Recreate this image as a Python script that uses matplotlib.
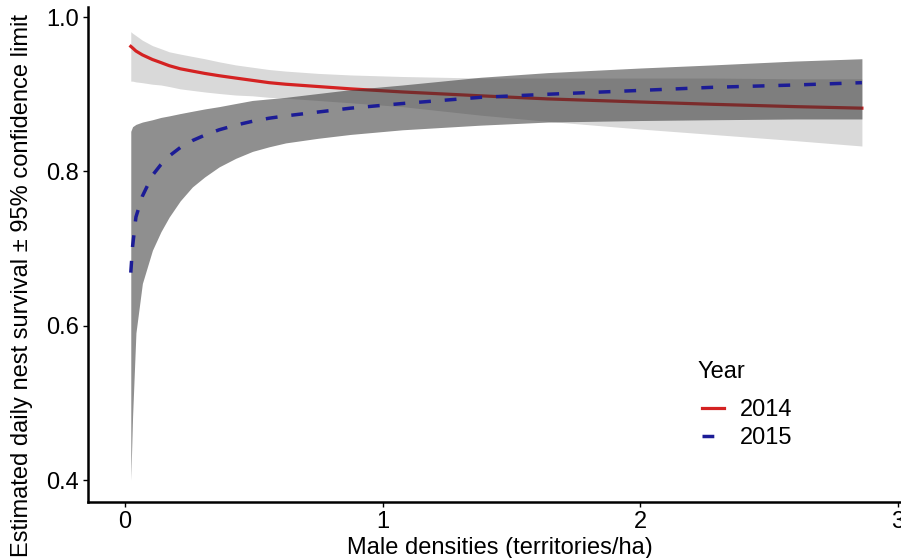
import matplotlib
matplotlib.use('Agg')
import matplotlib.pyplot as plt
from matplotlib.lines import Line2D

plt.rcParams['font.family'] = ['Liberation Sans', 'DejaVu Sans']

# ---- data ----
density = [0.023, 0.03, 0.043, 0.068, 0.107, 0.14, 0.172, 0.215, 0.262, 0.31,
           0.366, 0.43, 0.495, 0.56, 0.624, 0.75, 0.876, 1.077, 1.38, 1.64,
           2.0, 2.28, 2.6, 2.86]

fit_2014 = [0.962, 0.960, 0.956, 0.951, 0.945, 0.941, 0.937, 0.933, 0.930, 0.927,
            0.924, 0.921, 0.918, 0.915, 0.913, 0.910, 0.907, 0.903, 0.898, 0.894,
            0.890, 0.887, 0.884, 0.882]
hi_2014 = [0.981, 0.979, 0.976, 0.970, 0.963, 0.959, 0.955, 0.952, 0.949, 0.946,
           0.942, 0.938, 0.935, 0.932, 0.930, 0.927, 0.925, 0.923, 0.921, 0.921,
           0.921, 0.921, 0.920, 0.920]
lo_2014 = [0.917, 0.917, 0.916, 0.915, 0.913, 0.912, 0.910, 0.907, 0.905, 0.903,
           0.901, 0.899, 0.898, 0.896, 0.895, 0.892, 0.889, 0.884, 0.873, 0.865,
           0.855, 0.848, 0.840, 0.833]

fit_2015 = [0.669, 0.703, 0.741, 0.768, 0.795, 0.809, 0.820, 0.831, 0.840, 0.847,
            0.854, 0.860, 0.865, 0.869, 0.872, 0.877, 0.882, 0.888, 0.896, 0.900,
            0.905, 0.909, 0.912, 0.915]
hi_2015 = [0.852, 0.858, 0.861, 0.864, 0.867, 0.870, 0.872, 0.875, 0.878, 0.881,
           0.884, 0.888, 0.892, 0.894, 0.896, 0.901, 0.906, 0.912, 0.922, 0.928,
           0.934, 0.938, 0.943, 0.946]
lo_2015 = [0.400, 0.483, 0.591, 0.655, 0.698, 0.722, 0.741, 0.762, 0.780, 0.793,
           0.806, 0.817, 0.826, 0.832, 0.837, 0.843, 0.848, 0.854, 0.860, 0.864,
           0.866, 0.867, 0.868, 0.868]

years = ['2014', '2015']
legend_title = 'Year'
x_ticks = [0, 1, 2, 3]
x_ticklabels = ['0', '1', '2', '3']
y_ticks = [0.4, 0.6, 0.8, 1.0]
y_ticklabels = ['0.4', '0.6', '0.8', '1.0']

RED = '#d42222'
BLUE = '#1c1c96'

fig = plt.figure(figsize=(9.01, 5.58), dpi=100)
ax = fig.add_axes([88 / 901, 56 / 558, 827 / 901, 495 / 558])

ax.fill_between(density, lo_2014, hi_2014, color='#d9d9d9', lw=0, zorder=1)
ax.plot(density, fit_2014, color=RED, lw=2.3, zorder=2)
ax.fill_between(density, lo_2015, hi_2015, color='#333333', alpha=0.55, lw=0, zorder=3)
ax.plot(density, fit_2015, color=BLUE, lw=2.5, dashes=(3.4, 4.0), zorder=4)

ax.set_xlim(-0.143, 3.066)
ax.set_ylim(0.372, 1.013)
ax.set_xticks(x_ticks)
ax.set_xticklabels(x_ticklabels)
ax.set_yticks(y_ticks)
ax.set_yticklabels(y_ticklabels)

for s in ['top', 'right']:
    ax.spines[s].set_visible(False)
for s in ['left', 'bottom']:
    ax.spines[s].set_linewidth(1.8)
    ax.spines[s].set_color('black')
ax.tick_params(axis='both', length=3.5, width=1.0, colors='black',
               labelsize=17, pad=3)

ax.set_xlabel('Male densities (territories/ha)', fontsize=17)
ax.set_ylabel('Estimated daily nest survival \u00b1 95% confidence limit', fontsize=17)
ax.xaxis.set_label_coords(0.498, -0.070)
ax.yaxis.set_label_coords(-0.066, 0.438)

fig.text(697 / 901, 1 - 372 / 558, legend_title, fontsize=17,
         ha='left', va='center')
handles = [Line2D([], [], color=RED, lw=2.3),
           Line2D([], [], color=BLUE, lw=2.5, dashes=(3.4, 4.0))]
leg = ax.legend(handles, years, loc='upper left',
                bbox_to_anchor=(702 / 901, 1 - 399 / 558),
                bbox_transform=fig.transFigure, frameon=False,
                fontsize=17, handlelength=0.93,
                handletextpad=0.68, labelspacing=0.25,
                borderpad=0, borderaxespad=0)

fig.savefig('out.png', dpi=100)
